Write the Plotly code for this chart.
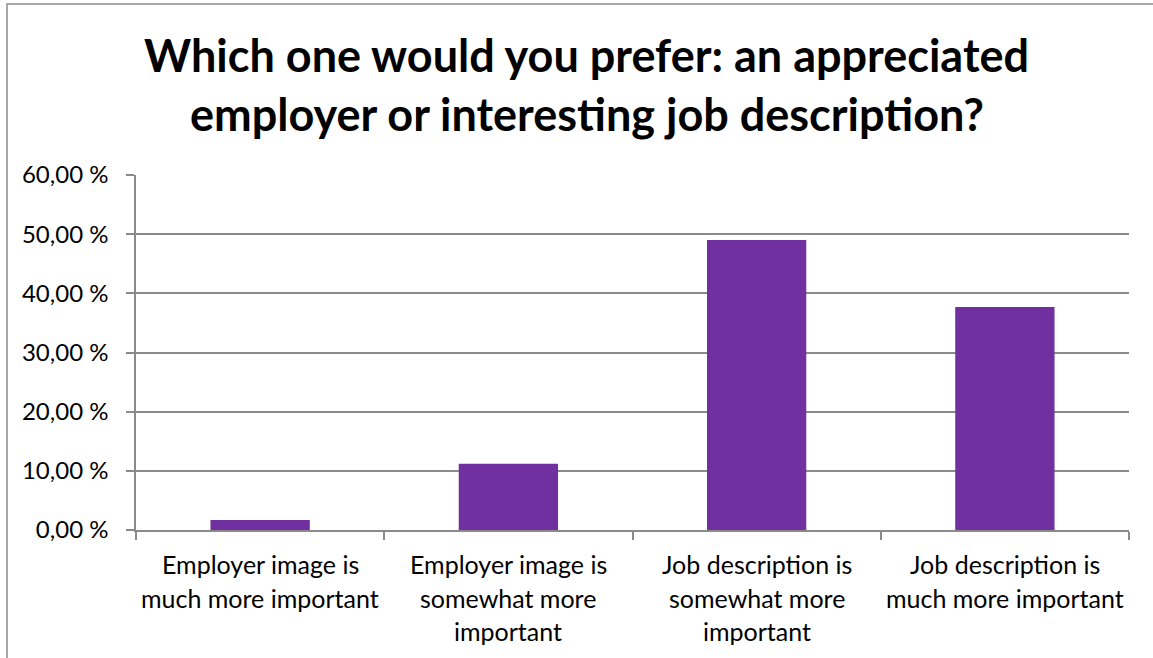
import plotly.graph_objects as go

# Survey answers and their shares (percent)
categories = [
    "Employer image is much more important",
    "Employer image is somewhat more important",
    "Job description is somewhat more important",
    "Job description is much more important",
]
label_lines = [
    ["Employer image is", "much more important"],
    ["Employer image is", "somewhat more", "important"],
    ["Job description is", "somewhat more", "important"],
    ["Job description is", "much more important"],
]
shares = [1.7, 11.2, 49.0, 37.7]
y_ticks = [0, 10, 20, 30, 40, 50, 60]
y_tick_text = [f"{v:.2f}".replace(".", ",") + " %" for v in y_ticks]
title_lines = [
    "Which one would you prefer: an appreciated",
    "employer or interesting job description?",
]

W, H = 1153, 658
L, R, T, B = 136, 24, 175, 128
plot_w, plot_h = W - L - R, H - T - B

BAR = "#7030A0"
GRID = "#8a8a8a"
FONT = "Lato"

fig = go.Figure(
    go.Bar(x=categories, y=shares, marker=dict(color=BAR, line=dict(width=0)))
)

annotations = []
# two-line chart title
for i, line in enumerate(title_lines):
    annotations.append(dict(
        text=f"<b>{line}</b>", xref="paper", yref="paper",
        x=(W / 2 - L + 10) / plot_w, y=(H - B - (55 + i * 59)) / plot_h,
        xanchor="center", yanchor="middle", showarrow=False,
        font=dict(family=FONT, size=45, color="#000000"),
    ))
# category labels under the axis
for cat, lines in zip(categories, label_lines):
    for j, line in enumerate(lines):
        annotations.append(dict(
            text=line, xref="x", yref="paper", x=cat,
            y=-(34 + j * 33.5) / plot_h,
            xanchor="center", yanchor="middle", showarrow=False,
            font=dict(family=FONT, size=25, color="#000000"),
        ))

fig.update_layout(
    width=W, height=H,
    margin=dict(l=L, r=R, t=T, b=B, pad=0),
    paper_bgcolor="white", plot_bgcolor="white",
    bargap=0.6, showlegend=False,
    font=dict(family=FONT, color="#000000"),
    annotations=annotations,
    shapes=[dict(
        type="rect", xref="paper", yref="paper", layer="below",
        x0=(7 - L) / plot_w, x1=(W + 20 - L) / plot_w,
        y0=-(B + 20) / plot_h, y1=(H - B - 4) / plot_h,
        line=dict(color="#8c8c8c", width=1.5), fillcolor="rgba(0,0,0,0)",
    )],
)
fig.update_xaxes(
    type="category", showticklabels=False,
    showline=True, linecolor=GRID, linewidth=1.5,
    ticks="outside", tickson="boundaries", ticklen=8,
    tickcolor=GRID, tickwidth=1.5, showgrid=False,
)
fig.update_yaxes(
    range=[0, 60], tickvals=y_ticks, ticktext=y_tick_text,
    showline=True, linecolor=GRID, linewidth=1.5,
    ticks="outside", ticklen=8, tickcolor=GRID, tickwidth=1.5,
    showgrid=True, gridcolor=GRID, gridwidth=1.5, zeroline=False,
    ticklabelstandoff=13,
    tickfont=dict(family=FONT, size=24, color="#000000"),
)

fig.write_html("out.html")
